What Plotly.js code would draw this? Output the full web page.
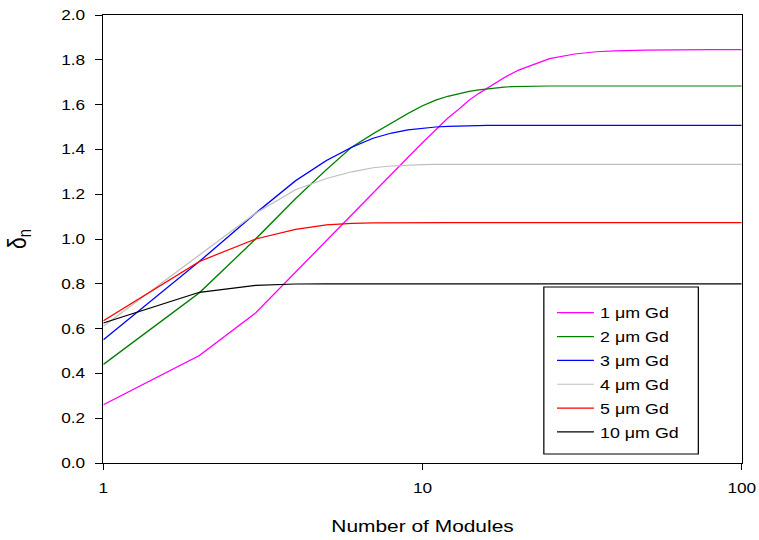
<!DOCTYPE html>
<html><head><meta charset="utf-8">
<script src="https://cdn.plot.ly/plotly-3.0.1.min.js"></script>
<style>
html,body{margin:0;padding:0;background:#fff;overflow:hidden;}
#wrap{width:759px;height:540px;overflow:hidden;position:relative;}
#chart{width:617px;height:540px;transform:scale(1.2301,1);transform-origin:0 0;}
</style></head><body><div id="wrap"><div id="chart"></div></div>
<script>
const modules = [1,2,3,4,5,6,7,8,9,10,11,12,13,14,15,16,17,18,19,20,25,30,35,40,50,60,70,80,90,100];
const gd1um  = [0.26,0.48,0.67,0.853,0.994,1.109,1.206,1.29,1.364,1.43,1.49,1.54,1.58,1.62,1.65,1.675,1.70,1.72,1.738,1.754,1.805,1.826,1.836,1.84,1.843,1.845,1.845,1.845,1.845,1.845];
const gd2um  = [0.44,0.76,1.0,1.18,1.31,1.41,1.47,1.52,1.56,1.595,1.62,1.637,1.65,1.659,1.666,1.671,1.675,1.678,1.68,1.681,1.683,1.683,1.683,1.683,1.683,1.683,1.683,1.683,1.683,1.683];
const gd3um  = [0.55,0.90,1.115,1.26,1.35,1.41,1.45,1.473,1.487,1.495,1.50,1.503,1.505,1.506,1.507,1.507,1.507,1.507,1.507,1.507,1.507,1.507,1.507,1.507,1.507,1.507,1.507,1.507,1.507,1.507];
const gd4um  = [0.61,0.93,1.115,1.22,1.27,1.30,1.318,1.326,1.33,1.332,1.333,1.333,1.333,1.333,1.333,1.333,1.333,1.333,1.333,1.333,1.333,1.333,1.333,1.333,1.333,1.333,1.333,1.333,1.333,1.333];
const gd5um  = [0.635,0.90,1.0,1.043,1.063,1.07,1.072,1.073,1.073,1.073,1.073,1.073,1.073,1.073,1.073,1.073,1.073,1.073,1.073,1.073,1.073,1.073,1.073,1.073,1.073,1.073,1.073,1.073,1.073,1.073];
const gd10um = [0.625,0.762,0.793,0.799,0.80,0.80,0.80,0.80,0.80,0.80,0.80,0.80,0.80,0.80,0.80,0.80,0.80,0.80,0.80,0.80,0.80,0.80,0.80,0.80,0.80,0.80,0.80,0.80,0.80,0.80];
const seriesNames = ['1 μm Gd','2 μm Gd','3 μm Gd','4 μm Gd','5 μm Gd','10 μm Gd'];
const seriesColors = ['#FF00FF','#008000','#0000FF','#C0C0C0','#FF0000','#000000'];
const seriesValues = [gd1um, gd2um, gd3um, gd4um, gd5um, gd10um];
const xTickVals = [1,10,100];
const xTickText = ['1','10','100'];

const traces = seriesValues.map((v,i)=>({
  type:'scatter', mode:'lines', x:modules, y:v, name:seriesNames[i],
  legendgroup:'g'+i,
  line:{color:seriesColors[i], width:1.2}
}));

const fontFam = '"Liberation Sans", Arial, sans-serif';
const layout = {
  width:617, height:540,
  margin:{l:84, r:14, t:15, b:77},
  paper_bgcolor:'#fff', plot_bgcolor:'#fff',
  font:{family:fontFam, color:'#000', size:14},
  showlegend:true,
  legend:{x:0.701, xanchor:'left', y:0.371, yanchor:'top', bgcolor:'rgba(0,0,0,0)', borderwidth:0,
          font:{family:fontFam, size:14.5, color:'#000'}, traceorder:'grouped', tracegroupgap:2},
  xaxis:{type:'log', range:[0,2], tickvals:xTickVals, ticktext:xTickText,
         showline:true, mirror:true, linecolor:'#000', linewidth:1,
         ticks:'outside', ticklen:6, tickwidth:1, tickcolor:'#000', ticklabelstandoff:6,
         showgrid:false, zeroline:false,
         tickfont:{family:fontFam, size:14, color:'#000'},
         title:{text:'Number of Modules', standoff:25, font:{family:fontFam, size:17, color:'#000'}}},
  yaxis:{range:[0,2], dtick:0.2, tick0:0, tickformat:'.1f',
         showline:true, mirror:true, linecolor:'#000', linewidth:1,
         ticks:'outside', ticklen:6, tickwidth:1, tickcolor:'#000', ticklabelstandoff:5,
         showgrid:false, zeroline:false,
         tickfont:{family:fontFam, size:14, color:'#000'},
         title:{text:'δ<sub>n</sub>', standoff:22, font:{family:fontFam, size:21, color:'#000'}}},
  shapes:[{type:'rect', xref:'paper', yref:'paper', x0:0.690, x1:0.932, y0:0.020, y1:0.393,
           line:{color:'#000', width:1}, fillcolor:'rgba(0,0,0,0)', layer:'above'}]
};
Plotly.newPlot('chart', traces, layout, {displayModeBar:false, staticPlot:true});
</script></body></html>
